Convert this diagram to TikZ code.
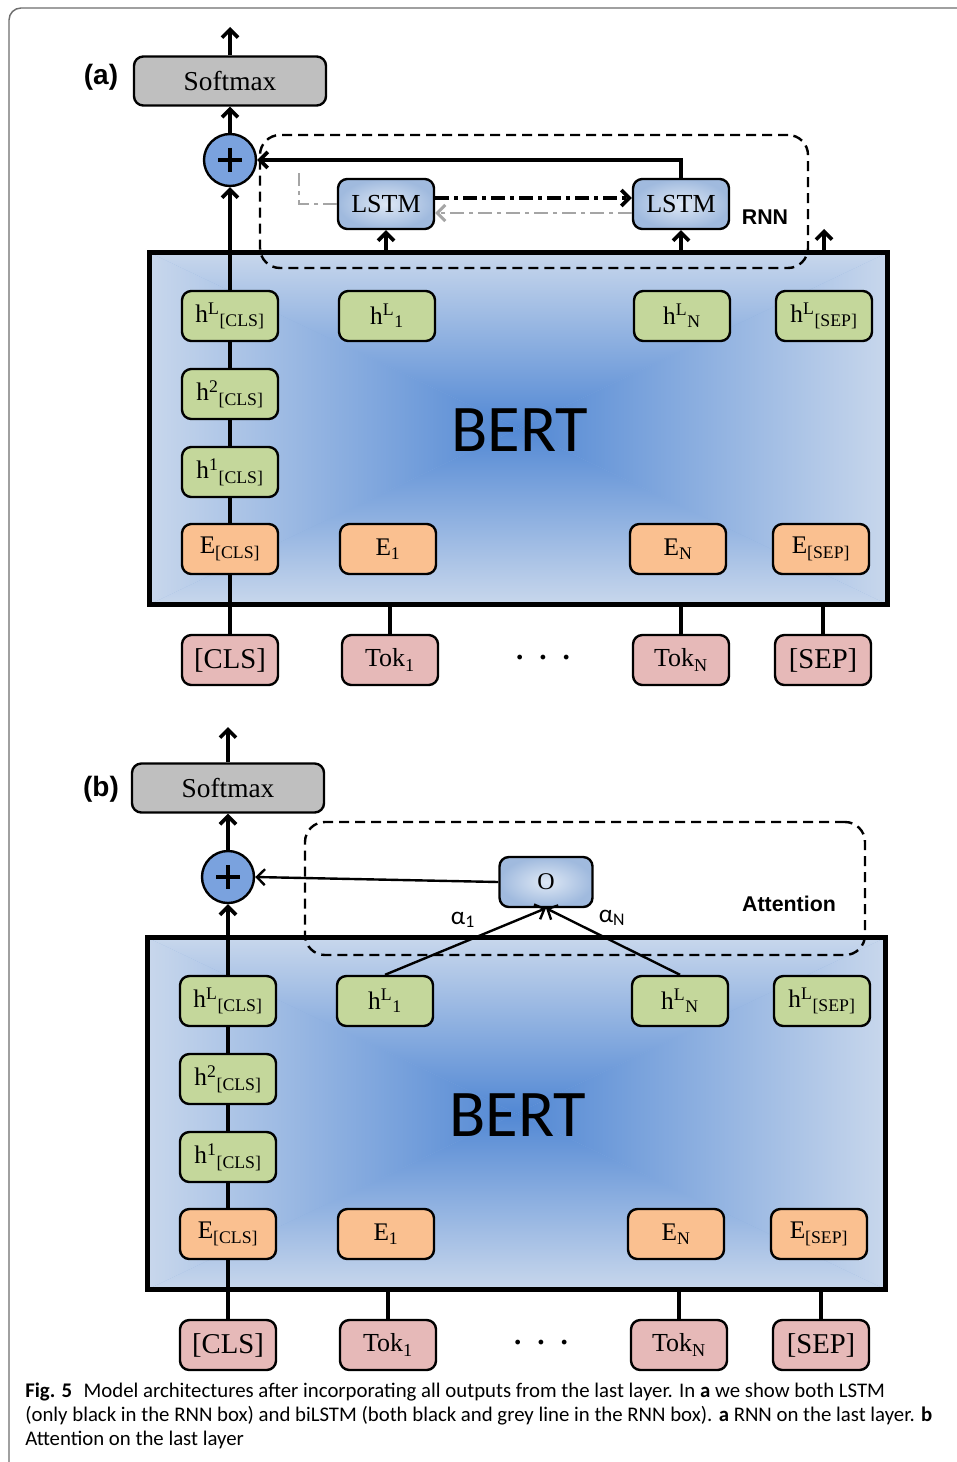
\documentclass[tikz,border=0pt]{standalone}
\usepackage{fontspec}
\setmainfont{Liberation Serif}
\newfontfamily\carl{Carlito}
\newfontfamily\capfont{Carlito}
\newfontfamily\arb{Liberation Sans}
\usetikzlibrary{arrows.meta,calc}

\definecolor{softgray}{RGB}{191,191,191}
\definecolor{plusblue}{RGB}{122,162,222}
\definecolor{hgreen}{RGB}{196,215,155}
\definecolor{eorange}{RGB}{250,192,144}
\definecolor{tpink}{RGB}{230,185,184}
\definecolor{lstmin}{RGB}{222,232,245}
\definecolor{lstmout}{RGB}{160,186,222}
\definecolor{bin}{RGB}{82,136,212}
\definecolor{bout}{RGB}{200,215,236}
\definecolor{ggray}{RGB}{165,165,165}
\definecolor{framegray}{RGB}{110,110,110}

\tikzset{
  >={Straight Barb[length=6pt,width=12pt]},
  arr/.style={line width=2.7pt,->},
  thinarr/.style={line width=1.8pt,->},
  conn/.style={line width=2.7pt},
  nbox/.style={draw=black, line width=1.8pt, rounded corners=7pt, minimum width=72pt, minimum height=37.5pt, inner sep=0pt},
  hbox/.style={nbox, fill=hgreen, font=\fontsize{19}{21}\selectfont},
  ebox/.style={nbox, fill=eorange, font=\fontsize{19}{21}\selectfont},
  tbox/.style={nbox, fill=tpink, font=\fontsize{19.5}{21}\selectfont},
  lbox/.style={nbox, inner color=lstmin, outer color=lstmout, font=\fontsize{19.5}{21}\selectfont},
  smbox/.style={nbox, fill=softgray, minimum width=144pt, minimum height=36.75pt, font=\fontsize{20.5}{22}\selectfont},
  plusnode/.style={circle, draw=black, line width=1.8pt, fill=plusblue, minimum size=39pt, inner sep=0pt},
  dbox/.style={draw=black, line width=1.8pt, dash pattern=on 7.5pt off 4.5pt, rounded corners=15pt, inner sep=0pt},
  lab/.style={font=\arb\bfseries\fontsize{16}{18}\selectfont, inner sep=0pt},
  plab/.style={font=\arb\bfseries\fontsize{21}{23}\selectfont, inner sep=0pt},
  dda/.style={line width=2.7pt, dash pattern=on 10pt off 4pt on 3pt off 4pt},
  ddg/.style={ggray, line width=2.2pt, dash pattern=on 10pt off 4pt on 3pt off 4pt},
}

\newcommand{\bertblock}[1]{%
  \node[minimum width=552.75pt, minimum height=263.25pt, inner sep=0pt] (bert#1) at (518.5,428.5) {};
  \fill[bout!50!bin] (bert#1.south west) rectangle (bert#1.north east);
  \shade[top color=bout, bottom color=bin] (bert#1.north west) -- (bert#1.north east) -- (bert#1.center) -- cycle;
  \shade[bottom color=bout, top color=bin] (bert#1.south west) -- (bert#1.south east) -- (bert#1.center) -- cycle;
  \shade[left color=bout, right color=bin] (bert#1.north west) -- (bert#1.south west) -- (bert#1.center) -- cycle;
  \shade[right color=bout, left color=bin] (bert#1.north east) -- (bert#1.south east) -- (bert#1.center) -- cycle;
  \draw[line width=3.5pt] (bert#1.south west) rectangle (bert#1.north east);
  \node[font=\carl\fontsize{50}{50}\selectfont, inner sep=0pt] (bertlab#1) at (520,430) {BERT};
  \node[hbox] (hLcls#1) at (230,316) {h\textsuperscript{L}\textsubscript{[CLS]}};
  \node[hbox] (h2cls#1) at (230,394) {h\textsuperscript{2}\textsubscript{[CLS]}};
  \node[hbox] (h1cls#1) at (230,472) {h\textsuperscript{1}\textsubscript{[CLS]}};
  \node[ebox] (Ecls#1) at (230,549) {E\textsubscript{[CLS]}};
  \node[hbox] (hL1#1) at (387,316) {h\textsuperscript{L}\textsubscript{1}};
  \node[hbox] (hLN#1) at (682,316) {h\textsuperscript{L}\textsubscript{N}};
  \node[hbox] (hLsep#1) at (824,316) {h\textsuperscript{L}\textsubscript{[SEP]}};
  \node[ebox] (E1#1) at (388,549) {E\textsubscript{1}};
  \node[ebox] (EN#1) at (678,549) {E\textsubscript{N}};
  \node[ebox] (Esep#1) at (821,549) {E\textsubscript{[SEP]}};
  \node[tbox, font=\fontsize{21.5}{23}\selectfont] (tcls#1) at (230,660) {[CLS]};
  \node[tbox] (tok1#1) at (390,660) {Tok\textsubscript{1}};
  \node[tbox] (tokN#1) at (681,660) {Tok\textsubscript{N}};
  \node[tbox, font=\fontsize{21.5}{23}\selectfont] (tsep#1) at (823,660) {[SEP]};
  \node[font=\bfseries\fontsize{22}{22}\selectfont, inner sep=0pt] (dots#1) at (543,658) {.\hspace{12pt}.\hspace{12pt}.};
  \draw[conn] (tcls#1.north) -- (Ecls#1.south);
  \draw[conn] (Ecls#1.north) -- (h1cls#1.south);
  \draw[conn] (h1cls#1.north) -- (h2cls#1.south);
  \draw[conn] (h2cls#1.north) -- (hLcls#1.south);
  \draw[conn] (tok1#1.north) -- (tok1#1.north |- bert#1.south);
  \draw[conn] (tokN#1.north) -- (tokN#1.north |- bert#1.south);
  \draw[conn] (tsep#1.north) -- (tsep#1.north |- bert#1.south);
}

\begin{document}
\begin{tikzpicture}[x=0.75pt,y=-0.75pt]
\useasboundingbox (0,0) rectangle (956,1462);
\fill[white] (0,0) rectangle (956,1462);
% outer frame
\draw[framegray, line width=1.1pt, rounded corners=9pt] (9,1470) -- (9,8) -- (965,8);

% ---------- panel (a) ----------
\bertblock{A}
\node[plab] (labA) at (101,77) {(a)};
\node[smbox] (smA) at (230,81) {Softmax};
\coordinate (topA) at (230,27);
\node[plusnode] (plA) at (230,160) {};
\draw[line width=3pt] ($(plA.center)+(-12,0)$) -- ($(plA.center)+(12,0)$);
\draw[line width=3pt] ($(plA.center)+(0,-12)$) -- ($(plA.center)+(0,12)$);
\draw[arr] (smA.north) -- (topA);
\draw[arr] (plA.north) -- (smA.south);
\draw[arr] (hLclsA.north) -- (plA.south);
\node[dbox, minimum width=411pt, minimum height=99.75pt] (rnnbox) at (534,201.5) {};
\node[lbox] (lstmA1) at (386,204) {LSTM};
\node[lbox] (lstmA2) at (681,204) {LSTM};
\node[lab] (rnnlab) at (765,217) {RNN};
\draw[dda,->] ([yshift=4.5pt]lstmA1.east) -- ([yshift=4.5pt]lstmA2.west);
\draw[ddg,->] ([yshift=-6.75pt]lstmA2.west) -- ([yshift=-6.75pt]lstmA1.east);
\coordinate (gA) at (299,173);
\draw[ddg] (lstmA1.west) -| (gA);
\draw[arr] (lstmA2.north) |- (plA.east);
\draw[arr] (lstmA1.south |- bertA.north) -- (lstmA1.south);
\draw[arr] (lstmA2.south |- bertA.north) -- (lstmA2.south);
\coordinate (freeA) at (824,229);
\draw[arr] (freeA |- bertA.north) -- (freeA);

% ---------- panel (b) ----------
\begin{scope}[shift={(-2,685)}]
\bertblock{B}
\end{scope}
\node[plab] (labB) at (101,789) {(b)};
\node[smbox] (smB) at (228,788) {Softmax};
\coordinate (topB) at (228,727);
\node[plusnode] (plB) at (228,877) {};
\draw[line width=3pt] ($(plB.center)+(-12,0)$) -- ($(plB.center)+(12,0)$);
\draw[line width=3pt] ($(plB.center)+(0,-12)$) -- ($(plB.center)+(0,12)$);
\draw[arr] (smB.north) -- (topB);
\draw[arr] (plB.north) -- (smB.south);
\draw[arr] (hLclsB.north) -- (plB.south);
\node[dbox, minimum width=420pt, minimum height=99.75pt] (attbox) at (585,888.5) {};
\node[lbox, minimum width=69.75pt, font=\fontsize{18}{20}\selectfont] (oB) at (546,882) {O};
\node[lab] (attlab) at (789,904) {Attention};
\draw[thinarr] (oB.west) -- (plB.east);
\draw[thinarr] (hL1B.north) -- (oB.south);
\draw[thinarr] (hLNB.north) -- (oB.south);
\node[font=\carl\fontsize{19}{21}\selectfont, inner sep=0pt] (al1) at (463,920) {α\textsubscript{1}};
\node[font=\carl\fontsize{19}{21}\selectfont, inner sep=0pt] (alN) at (612,918) {α\textsubscript{N}};

% ---------- caption ----------
\node[anchor=base west, inner sep=0pt, font=\capfont\fontsize{15.6}{18}\selectfont] (cap1) at (25,1397)
  {\textbf{Fig. 5}\hspace{0.55em}Model architectures after incorporating all outputs from the last layer. In \textbf{a} we show both LSTM};
\node[anchor=base west, inner sep=0pt, font=\capfont\fontsize{15.6}{18}\selectfont] (cap2) at (25,1421)
  {(only black in the RNN box) and biLSTM (both black and grey line in the RNN box). \textbf{a} RNN on the last layer. \textbf{b}};
\node[anchor=base west, inner sep=0pt, font=\capfont\fontsize{15.6}{18}\selectfont] (cap3) at (25,1445)
  {Attention on the last layer};
\end{tikzpicture}
\end{document}
